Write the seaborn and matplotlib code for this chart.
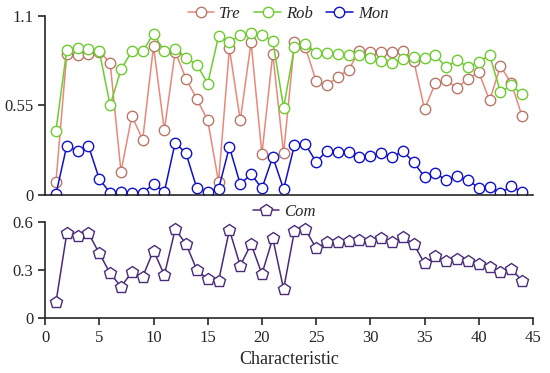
import numpy as np
import pandas as pd
import matplotlib
matplotlib.use("Agg")
import matplotlib.pyplot as plt
import seaborn as sns

characteristic = list(range(1, 45))

tre = [0.081, 0.866, 0.856, 0.866, 0.880, 0.811, 0.143, 0.485, 0.340, 0.913,
       0.397, 0.880, 0.713, 0.589, 0.458, 0.081, 0.900, 0.458, 0.937, 0.251,
       0.866, 0.255, 0.937, 0.907, 0.699, 0.672, 0.727, 0.768, 0.886, 0.876,
       0.880, 0.876, 0.886, 0.825, 0.526, 0.687, 0.703, 0.658, 0.713, 0.754,
       0.580, 0.790, 0.687, 0.483]
rob = [0.393, 0.892, 0.903, 0.897, 0.882, 0.550, 0.770, 0.882, 0.882, 0.988,
       0.882, 0.897, 0.842, 0.800, 0.683, 0.974, 0.937, 0.982, 0.994, 0.982,
       0.947, 0.536, 0.907, 0.927, 0.870, 0.870, 0.866, 0.856, 0.860, 0.842,
       0.825, 0.811, 0.835, 0.845, 0.842, 0.856, 0.784, 0.829, 0.784, 0.815,
       0.860, 0.632, 0.672, 0.617]
mon = [0.006, 0.302, 0.269, 0.302, 0.098, 0.014, 0.020, 0.014, 0.014, 0.067,
       0.020, 0.322, 0.255, 0.041, 0.020, 0.037, 0.295, 0.067, 0.128, 0.041,
       0.234, 0.037, 0.306, 0.312, 0.204, 0.271, 0.265, 0.265, 0.234, 0.238,
       0.259, 0.231, 0.271, 0.200, 0.112, 0.133, 0.092, 0.116, 0.092, 0.045,
       0.051, 0.010, 0.057, 0.016]
com = [0.096, 0.527, 0.513, 0.527, 0.402, 0.277, 0.194, 0.284, 0.256, 0.419,
       0.267, 0.552, 0.460, 0.298, 0.240, 0.229, 0.548, 0.325, 0.460, 0.273,
       0.496, 0.179, 0.542, 0.552, 0.434, 0.471, 0.475, 0.481, 0.486, 0.478,
       0.496, 0.471, 0.506, 0.459, 0.340, 0.386, 0.354, 0.367, 0.354, 0.336,
       0.315, 0.288, 0.304, 0.231]

sns.set_style("ticks")
plt.rcParams['font.family'] = ['Liberation Serif', 'DejaVu Serif']
plt.rcParams['font.size'] = 12

fig = plt.figure(figsize=(5.5, 3.73), dpi=100)
ax1 = fig.add_axes([0.082, 0.477, 0.887, 0.481])
ax2 = fig.add_axes([0.082, 0.148, 0.887, 0.258])

legend_font = {'style': 'italic', 'size': 12, 'family': 'Liberation Serif'}

# top panel: three series
series = [("Tre", tre, "#E8887A", "#B87868"),
          ("Rob", rob, "#6DCC2E", "#6DCC2E"),
          ("Mon", mon, "#1010C8", "#1010C8")]
for name, vals, lc, mc in series:
    sns.lineplot(x=characteristic, y=vals, ax=ax1, color=lc, lw=1.1,
                 marker='o', markersize=7.5, markerfacecolor='white',
                 markeredgecolor=mc, markeredgewidth=1.0, label=name)

ax1.set_xlim(0, 45)
ax1.set_ylim(0, 1.1)
ax1.set_yticks([0, 0.55, 1.1])
ax1.set_yticklabels(["0", "0.55", "1.1"])
ax1.set_xticks([])
sns.despine(ax=ax1)
ax1.spines['left'].set_linewidth(1.2)
ax1.spines['bottom'].set_linewidth(1.2)
ax1.tick_params(axis='y', length=5, width=1.2, labelsize=12)
ax1.legend(loc='center', bbox_to_anchor=(0.498, 1.01), ncol=3,
           frameon=False, prop=legend_font, borderpad=0.1,
           handlelength=1.6, columnspacing=0.8, handletextpad=0.3)

# bottom panel: Com
sns.lineplot(x=characteristic, y=com, ax=ax2, color="#4A2C78", lw=1.1,
             marker='p', markersize=9, markerfacecolor='white',
             markeredgecolor="#4A2C78", markeredgewidth=1.0, label="Com")
ax2.set_xlim(0, 45)
ax2.set_ylim(0, 0.6)
ax2.set_yticks([0, 0.3, 0.6])
ax2.set_yticklabels(["0", "0.3", "0.6"])
ax2.set_xticks(range(0, 46, 5))
sns.despine(ax=ax2)
ax2.spines['left'].set_linewidth(1.2)
ax2.spines['bottom'].set_linewidth(1.2)
ax2.tick_params(axis='both', length=5, width=1.2, labelsize=12)
ax2.set_xlabel("Characteristic", fontsize=13)
ax2.legend(loc='center', bbox_to_anchor=(0.49, 1.104), ncol=1,
           frameon=False, prop=legend_font, borderpad=0.1,
           handlelength=1.6, handletextpad=0.3)

fig.savefig("out.png", dpi=100)
